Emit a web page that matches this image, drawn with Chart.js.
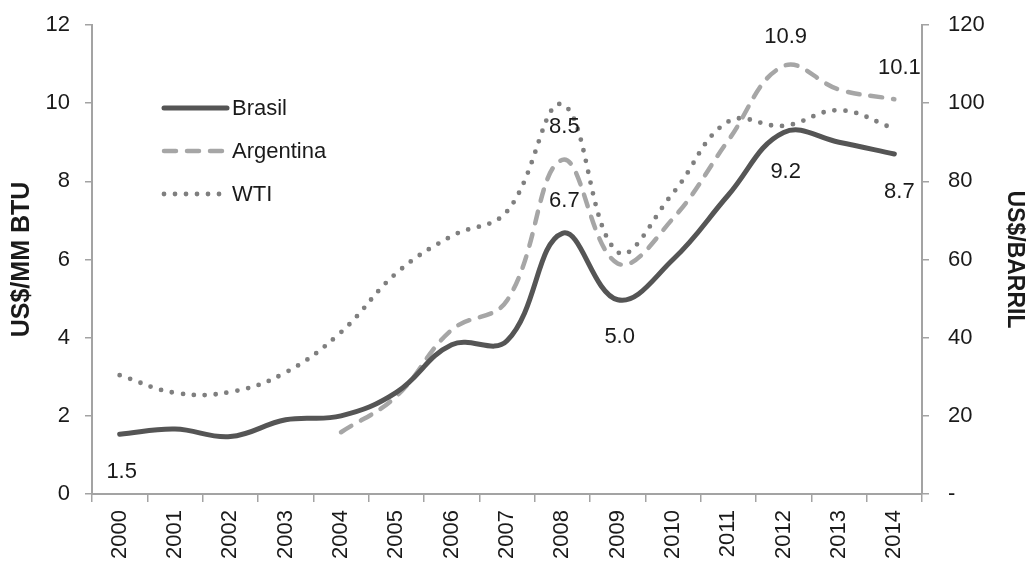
<!DOCTYPE html>
<html>
<head>
<meta charset="utf-8">
<script src="https://cdn.jsdelivr.net/npm/chart.js@4.4.1/dist/chart.umd.min.js"></script>
<style>
  html, body { margin: 0; padding: 0; background: #fff; }
  #wrap { width: 1030px; height: 562px; }
</style>
</head>
<body>
<div id="wrap"><canvas id="gasChart" width="1030" height="562"></canvas></div>
<script>
// years on the x axis
const years = ["2000", "2001", "2002", "2003", "2004", "2005", "2006", "2007",
  "2008", "2009", "2010", "2011", "2012", "2013", "2014"];

// US$/MM BTU (left axis)
const brasil = [1.53, 1.66, 1.47, 1.9, 2.0, 2.6, 3.82, 3.92, 6.67, 4.97, 6.0, 7.65, 9.25, 9.0, 8.7];
const argentina = [null, null, null, null, 1.58, 2.5, 4.2, 4.95, 8.55, 5.9, 7.05, 9.05, 10.95, 10.35, 10.1];

// US$/barril (right axis)
const wti = [30.4, 25.9, 26.1, 31.1, 41.4, 56.5, 66.0, 72.3, 99.7, 61.9, 77.0, 95.3, 94.2, 98.2, 93.5];

// value labels shown on the chart
const brasilLabels = ["1.5", null, null, null, null, null, null, null, "6.7", "5.0", null, null, "9.2", null, "8.7"];
const argentinaLabels = [null, null, null, null, null, null, null, null, "8.5", null, null, null, "10.9", null, "10.1"];

const leftTicks = [0, 2, 4, 6, 8, 10, 12];
const rightTicks = [0, 20, 40, 60, 80, 100, 120];

const FONT = "'Liberation Sans', Arial, sans-serif";
const AXIS = "#a3a3a3";

// where each label sits relative to its point (px, negative = above)
const labelOffsets = {
  0: { 0: 38, 8: -32, 9: 37, 12: 39, 14: 38 },
  1: { 8: -33, 12: -29, 14: -31 }
};
const labelTexts = { 0: brasilLabels, 1: argentinaLabels };

const valueLabels = {
  id: "valueLabels",
  afterDatasetsDraw(chart) {
    const ctx = chart.ctx;
    ctx.save();
    ctx.font = "22px " + FONT;
    ctx.fillStyle = "#1a1a1a";
    ctx.textAlign = "center";
    ctx.textBaseline = "middle";
    Object.keys(labelTexts).forEach(function(di) {
      const meta = chart.getDatasetMeta(di);
      labelTexts[di].forEach(function(txt, i) {
        if (!txt) return;
        const pt = meta.data[i];
        let dx = 2;
        if (i === 14) dx = 5;
        ctx.fillText(txt, pt.x + dx, pt.y + labelOffsets[di][i]);
      });
    });
    ctx.restore();
  }
};

// legend drawn inside the plot, top-left
const innerLegend = {
  id: "innerLegend",
  afterDraw(chart) {
    const ctx = chart.ctx;
    const a = chart.chartArea;
    const x0 = a.left + 72, x1 = a.left + 135;
    ctx.save();
    ctx.font = "22px " + FONT;
    ctx.fillStyle = "#1a1a1a";
    ctx.textBaseline = "middle";
    chart.data.datasets.forEach(function(ds, i) {
      const y = a.top + 83 + i * 43;
      ctx.beginPath();
      ctx.strokeStyle = ds.borderColor;
      ctx.lineWidth = ds.borderWidth;
      ctx.lineCap = ds.borderCapStyle || "butt";
      ctx.setLineDash(ds.borderDash || []);
      ctx.moveTo(x0, y);
      ctx.lineTo(x1, y);
      ctx.stroke();
      ctx.fillText(ds.label, x1 + 5, y + 1);
    });
    ctx.restore();
  }
};

new Chart(document.getElementById("gasChart"), {
  type: "line",
  data: {
    labels: years,
    datasets: [
      {
        label: "Brasil",
        data: brasil,
        yAxisID: "y",
        borderColor: "#555555",
        borderWidth: 5,
        borderCapStyle: "round",
        tension: 0.4,
        pointRadius: 0
      },
      {
        label: "Argentina",
        data: argentina,
        yAxisID: "y",
        borderColor: "#a6a6a6",
        borderWidth: 4.5,
        borderDash: [12, 11],
        borderCapStyle: "round",
        tension: 0.4,
        pointRadius: 0
      },
      {
        label: "WTI",
        data: wti,
        yAxisID: "y1",
        borderColor: "#7f7f7f",
        borderWidth: 4.8,
        borderDash: [0, 11],
        borderCapStyle: "round",
        tension: 0.4,
        pointRadius: 0
      }
    ]
  },
  options: {
    responsive: false,
    animation: false,
    layout: { padding: { top: 25, left: 0, right: 0, bottom: 0 } },
    plugins: {
      legend: { display: false },
      tooltip: { enabled: false }
    },
    scales: {
      x: {
        offset: true,
        grid: { offset: true, drawOnChartArea: false, tickLength: 8, color: AXIS, lineWidth: 1.5 },
        border: { color: AXIS, width: 2 },
        ticks: {
          autoSkip: false, minRotation: 90, maxRotation: 90, padding: 8,
          color: "#1a1a1a", font: { family: FONT, size: 22 }
        },
        afterFit: function(s) { s.height = 68; }
      },
      y: {
        position: "left",
        min: 0, max: 12,
        afterBuildTicks: function(s) { s.ticks = leftTicks.map(function(v) { return { value: v }; }); },
        grid: { drawOnChartArea: false, tickLength: 7, color: AXIS, lineWidth: 1.5 },
        border: { color: AXIS, width: 2 },
        ticks: { padding: 15, color: "#1a1a1a", font: { family: FONT, size: 22 } },
        title: {
          display: true, text: "US$/MM BTU", color: "#1a1a1a",
          font: { family: FONT, size: 25, weight: "bold" }, padding: { top: 7, bottom: 0 }
        },
        afterFit: function(s) { s.width = 92; s.paddingTop = 0; s.paddingBottom = 0; }
      },
      y1: {
        position: "right",
        min: 0, max: 120,
        afterBuildTicks: function(s) { s.ticks = rightTicks.map(function(v) { return { value: v }; }); },
        grid: { drawOnChartArea: false, tickLength: 7, color: AXIS, lineWidth: 1.5 },
        border: { color: AXIS, width: 2 },
        ticks: {
          padding: 19, color: "#1a1a1a", font: { family: FONT, size: 22 },
          callback: function(v) { return v === 0 ? "-" : v; }
        },
        title: {
          display: true, text: "US$/BARRIL", color: "#1a1a1a",
          font: { family: FONT, size: 23, weight: "bold" }, padding: { top: 2, bottom: 0 }
        },
        afterFit: function(s) { s.width = 108; s.paddingTop = 0; s.paddingBottom = 0; }
      }
    }
  },
  plugins: [valueLabels, innerLegend]
});
</script>
</body>
</html>
